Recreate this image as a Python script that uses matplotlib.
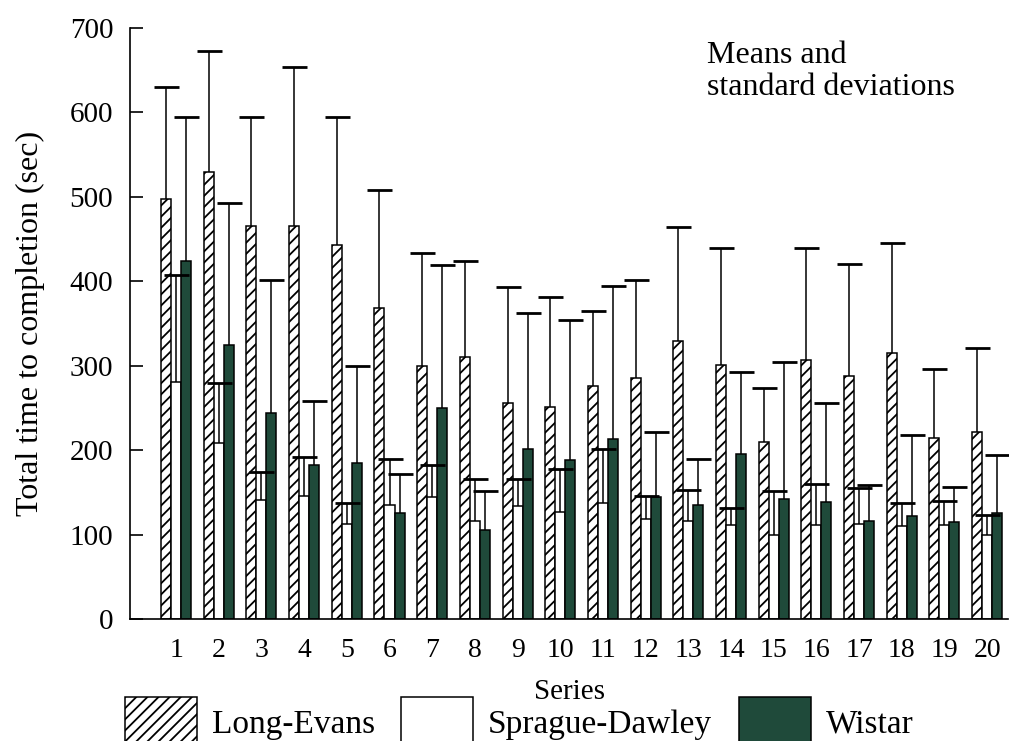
import matplotlib
matplotlib.use("Agg")
import matplotlib.pyplot as plt
from matplotlib.patches import Patch
import numpy as np

# values (means and mean + 1 SD)
series = list(range(1, 21))
strains = ["Long-Evans", "Sprague-Dawley", "Wistar"]

le_mean = [498, 530, 466, 466, 443, 368, 300, 310, 256, 251,
           276, 285, 329, 301, 210, 307, 288, 315, 215, 222]
le_upper = [630, 673, 595, 654, 595, 508, 433, 424, 393, 381,
            365, 402, 464, 439, 274, 439, 420, 445, 296, 321]

sd_mean = [281, 209, 141, 146, 113, 135, 145, 116, 134, 127,
           138, 118, 116, 111, 99, 111, 112, 110, 111, 99]
sd_upper = [408, 280, 174, 192, 137, 189, 183, 166, 166, 178,
            201, 146, 153, 132, 152, 160, 155, 138, 140, 123]

w_mean = [424, 325, 244, 183, 185, 125, 250, 106, 201, 188,
          213, 144, 135, 195, 142, 139, 116, 122, 115, 125]
w_upper = [595, 493, 401, 258, 300, 172, 419, 152, 362, 354,
           395, 222, 190, 293, 305, 256, 159, 218, 156, 194]

DARK = "#1f4a3a"
FONT = "Liberation Serif"

plt.rcParams["font.family"] = [FONT, "DejaVu Serif"]
plt.rcParams["hatch.linewidth"] = 1.3

fig = plt.figure(figsize=(10.17, 7.41), dpi=100)
ax = fig.add_axes([0.1278, 0.1646, 0.8634, 0.7976])

x = np.array(series, dtype=float)
w = 0.235

groups = [
    (le_mean, le_upper, dict(facecolor="white", hatch="///"), -w),
    (sd_mean, sd_upper, dict(facecolor="white"), 0.0),
    (w_mean, w_upper, dict(facecolor=DARK), w),
]

for mean, upper, style, off in groups:
    mean = np.array(mean, dtype=float)
    err = np.array(upper, dtype=float) - mean
    ax.bar(x + off, mean, width=w, edgecolor="black", linewidth=1.1,
           zorder=2, **style)
    # one-sided (upper) error bars; hide the cap drawn at the mean
    _, caps, _ = ax.errorbar(x + off, mean, yerr=[np.zeros_like(err), err],
                             fmt="none", ecolor="black", elinewidth=1.1,
                             capsize=9, capthick=2, zorder=3)
    caps[0].set_visible(False)

ax.set_xlim(-0.08, 20.49)
ax.set_ylim(0, 700)
ax.set_yticks(range(0, 701, 100))
ax.set_xticks(x)
ax.set_xticklabels([str(s) for s in series])

for side in ["top", "right"]:
    ax.spines[side].set_visible(False)
ax.spines["left"].set_linewidth(1.2)
ax.spines["bottom"].set_linewidth(1.2)

ax.tick_params(axis="y", direction="in", length=9, width=1.2, pad=12,
               labelsize=21)
ax.tick_params(axis="x", length=0, pad=14, labelsize=20)

ax.set_ylabel("Total time to completion (sec)", fontsize=23, labelpad=18)
ax.set_xlabel("Series", fontsize=21, labelpad=11)

ax.text(0.695, 0.944, "Means and\nstandard deviations",
        transform=fig.transFigure, ha="left", va="top",
        fontsize=23, linespacing=1.1)

handles = [
    Patch(facecolor="white", edgecolor="black", hatch="///", linewidth=1.1),
    Patch(facecolor="white", edgecolor="black", linewidth=1.1),
    Patch(facecolor=DARK, edgecolor="black", linewidth=1.1),
]
fig.legend(handles, strains, loc="upper left",
           bbox_to_anchor=(0.1229, 0.059), ncol=3, frameon=False,
           fontsize=24, handlelength=2.15, handleheight=1.9,
           handletextpad=0.45, columnspacing=0.8,
           borderpad=0, borderaxespad=0)

fig.savefig("out.png", dpi=100)
